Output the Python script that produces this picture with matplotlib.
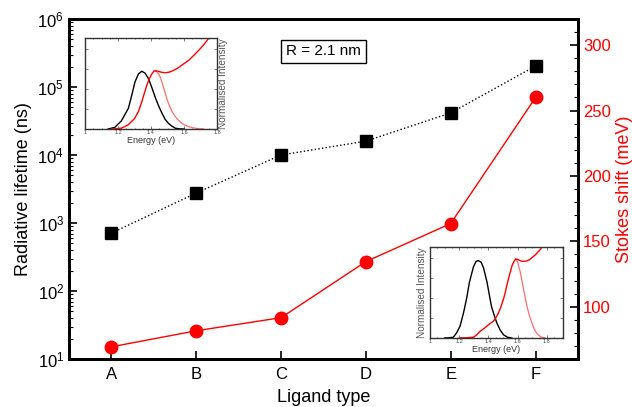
import matplotlib
matplotlib.use("Agg")
import matplotlib.pyplot as plt
from matplotlib.ticker import MultipleLocator, LogLocator, NullFormatter

plt.rcParams['font.family'] = ['Liberation Sans', 'DejaVu Sans']

# main data
ligands = ['A', 'B', 'C', 'D', 'E', 'F']
lifetime_ns = [710, 2760, 10000, 16000, 41600, 204000]
stokes_mev = [69.3, 81.6, 91.6, 134.5, 163.6, 260]

# inset 1 spectra
in1_pl_e = [1.14, 1.18, 1.22, 1.263, 1.283, 1.303, 1.324, 1.344, 1.364, 1.385, 1.405, 1.425, 1.446, 1.466, 1.486, 1.506, 1.527, 1.547, 1.57, 1.60]
in1_pl_i = [0.0, 0.02, 0.10, 0.26, 0.42, 0.59, 0.69, 0.724, 0.70, 0.63, 0.52, 0.40, 0.29, 0.20, 0.12, 0.07, 0.035, 0.01, 0.003, 0.0]
in1_abs_e = [1.16, 1.22, 1.26, 1.30, 1.324, 1.344, 1.36, 1.375, 1.39, 1.405, 1.42, 1.44, 1.466, 1.486, 1.506, 1.527, 1.547, 1.567, 1.587, 1.608, 1.628, 1.648, 1.668, 1.689, 1.709, 1.725, 1.74, 1.75]
in1_abs_i = [0.0, 0.01, 0.05, 0.13, 0.22, 0.34, 0.45, 0.55, 0.63, 0.69, 0.73, 0.725, 0.71, 0.705, 0.71, 0.725, 0.745, 0.77, 0.80, 0.83, 0.86, 0.90, 0.94, 0.985, 1.03, 1.07, 1.11, 1.14]
in1_em_e = [1.42, 1.433, 1.446, 1.456, 1.466, 1.476, 1.486, 1.496, 1.506, 1.517, 1.527, 1.542, 1.557, 1.572, 1.587, 1.608, 1.628, 1.648, 1.668, 1.69, 1.72]
in1_em_i = [0.73, 0.72, 0.69, 0.65, 0.59, 0.52, 0.45, 0.38, 0.32, 0.27, 0.22, 0.17, 0.13, 0.10, 0.07, 0.045, 0.03, 0.018, 0.01, 0.004, 0.0]

# inset 2 spectra
in2_pl_e = [1.10, 1.14, 1.16, 1.184, 1.206, 1.23, 1.25, 1.27, 1.297, 1.315, 1.33, 1.35, 1.366, 1.39, 1.405, 1.42, 1.44, 1.457, 1.48, 1.503, 1.53, 1.56]
in2_pl_i = [0.0, 0.005, 0.01, 0.07, 0.15, 0.32, 0.49, 0.70, 0.89, 0.96, 0.97, 0.95, 0.88, 0.70, 0.55, 0.40, 0.28, 0.19, 0.10, 0.04, 0.01, 0.0]
in2_abs_e = [1.20, 1.26, 1.297, 1.32, 1.343, 1.37, 1.39, 1.41, 1.434, 1.45, 1.47, 1.487, 1.503, 1.515, 1.526, 1.538, 1.55, 1.562, 1.575, 1.586, 1.60, 1.615, 1.63, 1.644, 1.66, 1.68, 1.70, 1.72, 1.74, 1.76]
in2_abs_i = [0.0, 0.005, 0.01, 0.04, 0.085, 0.12, 0.15, 0.18, 0.21, 0.25, 0.32, 0.40, 0.49, 0.57, 0.66, 0.75, 0.83, 0.91, 0.96, 0.99, 0.985, 0.97, 0.96, 0.96, 0.965, 0.98, 1.01, 1.04, 1.08, 1.12]
in2_em_e = [1.586, 1.60, 1.617, 1.63, 1.64, 1.652, 1.663, 1.68, 1.697, 1.713, 1.73, 1.75, 1.766, 1.79]
in2_em_i = [0.99, 0.95, 0.83, 0.71, 0.61, 0.50, 0.40, 0.28, 0.19, 0.11, 0.06, 0.025, 0.01, 0.0]

x = list(range(len(ligands)))

fig = plt.figure(figsize=(6.32, 4.07), dpi=100)
ax = fig.add_axes([69/632, 48/407, 509/632, 340/407])
ax2 = ax.twinx()

ax.plot(x, lifetime_ns, color='black', linestyle=':', linewidth=1,
        marker='s', markersize=8, zorder=3)
ax.set_yscale('log')
ax.set_ylim(10, 1e6)
ax.set_xlim(-0.5, 5.5)
ax.set_xticks(x)
ax.set_xticklabels(ligands)
ax.yaxis.set_major_locator(LogLocator(base=10, numticks=10))
ax.yaxis.set_minor_locator(LogLocator(base=10, subs=range(2, 10), numticks=10))
ax.yaxis.set_minor_formatter(NullFormatter())
ax.set_xlabel('Ligand type', fontsize=13, labelpad=5)
ax.set_ylabel('Radiative lifetime (ns)', fontsize=13, labelpad=4)
ax.tick_params(axis='both', which='major', direction='in', length=6, width=1.2, labelsize=12)
ax.tick_params(axis='y', which='minor', direction='in', length=3, width=0.8)
ax.tick_params(axis='x', pad=6)

ax2.plot(x, stokes_mev, color='red', linewidth=1, marker='o', markersize=9, zorder=3)
ax2.set_ylim(60, 320)
ax2.yaxis.set_major_locator(MultipleLocator(50))
ax2.yaxis.set_minor_locator(MultipleLocator(10))
ax2.set_ylabel('Stokes shift (meV)', color='red', fontsize=13, labelpad=4)
ax2.tick_params(axis='y', which='major', direction='in', length=6, width=1.2,
                labelsize=12, colors='black', labelcolor='red')
ax2.tick_params(axis='y', which='minor', direction='in', length=3, width=0.8)

for a in (ax, ax2):
    for s in a.spines.values():
        s.set_linewidth(2)

ax.text(0.5, 0.905, 'R = 2.1 nm', transform=ax.transAxes, ha='center', va='center',
        fontsize=11, bbox=dict(boxstyle='square,pad=0.3', facecolor='white',
                               edgecolor='black', linewidth=1))


def draw_inset(rect, pl, ab, em, xmax, label_right):
    ia = fig.add_axes(rect)
    ia.plot(em[0], em[1], color='#ff7070', linewidth=0.9)
    ia.plot(pl[0], pl[1], color='black', linewidth=1.0)
    ia.plot(ab[0], ab[1], color='red', linewidth=1.0)
    ia.set_xlim(1, xmax)
    ia.set_ylim(0, 1.14)
    ia.set_xticks([1, 1.2, 1.4, 1.6, 1.8])
    ia.set_xticklabels(['1', '1.2', '1.4', '1.6', '1.8'])
    ia.xaxis.set_minor_locator(MultipleLocator(0.05))
    ia.yaxis.set_major_locator(MultipleLocator(0.25))
    ia.set_yticklabels([])
    ia.tick_params(axis='both', which='both', direction='in', labelsize=4, pad=1,
                   length=2, width=0.5, colors='#444444', top=True, right=True)
    ia.tick_params(axis='both', which='minor', length=1)
    ia.set_xlabel('Energy (eV)', fontsize=6.5, labelpad=0.5, color='#333333')
    if label_right:
        ia.yaxis.set_label_position('right')
    ia.set_ylabel('Normalised Intensity', fontsize=7.2, labelpad=1, color='#555555')
    for s in ia.spines.values():
        s.set_linewidth(1)
        s.set_color('#333333')
    return ia


draw_inset([85/632, 278/407, 132/632, 91/407],
           (in1_pl_e, in1_pl_i), (in1_abs_e, in1_abs_i), (in1_em_e, in1_em_i), 1.8, True)
draw_inset([430/632, 69/407, 133/632, 91/407],
           (in2_pl_e, in2_pl_i), (in2_abs_e, in2_abs_i), (in2_em_e, in2_em_i), 1.91, False)

fig.savefig('out.png', dpi=100)
